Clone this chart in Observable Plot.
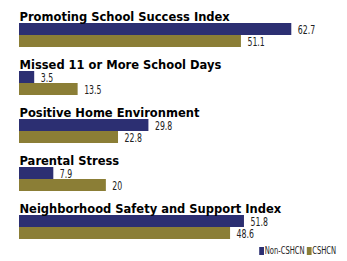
<!DOCTYPE html>
<html>
<head>
<meta charset="utf-8">
<script src="https://cdn.jsdelivr.net/npm/d3@7"></script>
<script src="https://cdn.jsdelivr.net/npm/@observablehq/plot@0.6"></script>
<style>
  html, body { margin: 0; padding: 0; background: #fff; }
  #chart { width: 347px; height: 261px; position: relative; overflow: hidden; }
  #legend { position: absolute; right: 11px; top: 245px; font-family: "DejaVu Sans", sans-serif; font-size: 10px; color: #222; white-space: nowrap; line-height: 12px; transform: scaleX(0.68); transform-origin: right center; }
  #legend .sw { display: inline-block; width: 7px; height: 8px; margin-right: 1px; vertical-align: -0.5px; }
  #legend .item { margin-left: 3px; }
</style>
</head>
<body>
<div id="chart"></div>
<script>
const groups = [
  "Promoting School Success Index",
  "Missed 11 or More School Days",
  "Positive Home Environment",
  "Parental Stress",
  "Neighborhood Safety and Support Index"
];
const seriesNames = ["Non-CSHCN", "CSHCN"];
const nonCshcn = [62.7, 3.5, 29.8, 7.9, 51.8];
const cshcn = [51.1, 13.5, 22.8, 20, 48.6];
const colors = ["#2c2f72", "#8b7e36"];

const data = groups.flatMap((g, i) => [
  {group: g, series: seriesNames[0], value: nonCshcn[i]},
  {group: g, series: seriesNames[1], value: cshcn[i]}
]);

const chart = Plot.plot({
  width: 347,
  height: 242,
  marginLeft: 19,
  marginRight: 24,
  marginTop: 23,
  marginBottom: 3,
  x: {domain: [0, 70], axis: null},
  y: {domain: seriesNames, axis: null, paddingInner: 0, paddingOuter: 0},
  fy: {domain: groups, axis: null, paddingInner: 0.5, paddingOuter: 0},
  color: {domain: seriesNames, range: colors},
  marks: [
    Plot.barX(data, {fy: "group", y: "series", x: "value", fill: "series"}),
    Plot.text(data, {
      fy: "group", y: "series", x: "value",
      text: d => String(d.value),
      textAnchor: "start", dx: 6, dy: 1,
      fontFamily: "'DejaVu Sans', sans-serif",
      fontSize: 11.5, fill: "#222",
      className: "value-labels"
    }),
    Plot.text(groups, {
      fy: d => d, text: d => d,
      frameAnchor: "top-left", lineAnchor: "bottom", textAnchor: "start",
      dy: -3,
      fontFamily: "'DejaVu Sans', Verdana, sans-serif",
      fontWeight: "bold", fontSize: 11.5, fill: "#000"
    })
  ]
});
// condense the value labels horizontally, like the narrow face in the reference
d3.select(chart).selectAll("g.value-labels text").each(function() {
  const t = this.getAttribute("transform");
  if (t) this.setAttribute("transform", t + " scale(0.68,1)");
});
const container = document.getElementById("chart");
container.appendChild(chart);

const legend = document.createElement("div");
legend.id = "legend";
seriesNames.forEach((s, i) => {
  const item = document.createElement("span");
  item.className = "item";
  const sw = document.createElement("span");
  sw.className = "sw";
  sw.style.background = colors[i];
  item.appendChild(sw);
  item.appendChild(document.createTextNode(s));
  legend.appendChild(item);
});
container.appendChild(legend);
</script>
</body>
</html>
